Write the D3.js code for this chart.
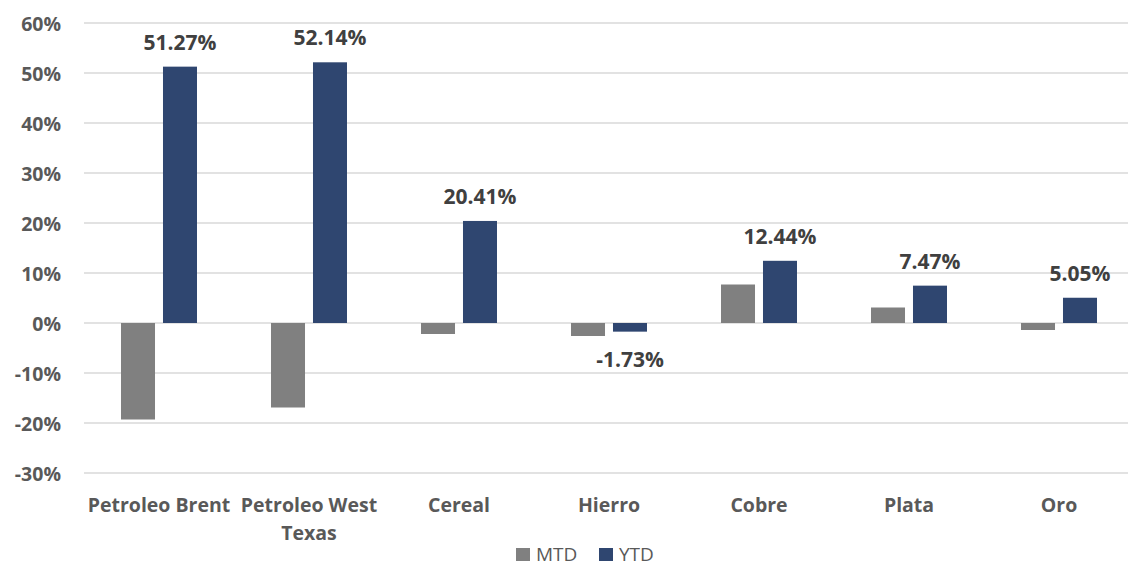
<!DOCTYPE html>
<html>
<head>
<meta charset="utf-8">
<script src="https://cdn.jsdelivr.net/npm/d3@7"></script>
<style>
  body { margin: 0; background: #fff; }
  svg { display: block; }
</style>
</head>
<body>
<svg id="chart" width="1128" height="566"></svg>
<script>
// Commodity returns: month-to-date and year-to-date, in percent
const categories = ["Petroleo Brent", "Petroleo West Texas", "Cereal", "Hierro", "Cobre", "Plata", "Oro"];
const categoryLines = [["Petroleo Brent"], ["Petroleo West", "Texas"], ["Cereal"], ["Hierro"], ["Cobre"], ["Plata"], ["Oro"]];
const seriesNames = ["MTD", "YTD"];
const mtd = [-19.3, -16.9, -2.2, -2.6, 7.7, 3.1, -1.4];
const ytd = [51.27, 52.14, 20.41, -1.73, 12.44, 7.47, 5.05];
const yTicks = [-30, -20, -10, 0, 10, 20, 30, 40, 50, 60];
const colors = { MTD: "#808080", YTD: "#2F4670" };

const svg = d3.select("#chart");
const font = "'Open Sans', sans-serif";

const x0 = d3.scaleBand().domain(categories).range([84, 1134]).paddingInner(0).paddingOuter(0);
const x1 = d3.scaleBand().domain(seriesNames).range([37, 113]).paddingInner(0.19).paddingOuter(0);
const y = d3.scaleLinear().domain([-30, 60]).range([473, 23]);

// horizontal gridlines
svg.append("g").selectAll("line").data(yTicks).join("line")
  .attr("x1", 84).attr("x2", 1134)
  .attr("y1", d => y(d)).attr("y2", d => y(d))
  .attr("stroke", "#d9d9d9").attr("stroke-width", 1.5);

// y axis labels
const yAxis = d3.axisLeft(y).tickValues(yTicks).tickFormat(d => d + "%").tickSize(0).tickPadding(0);
const gy = svg.append("g").attr("transform", "translate(61,0)").call(yAxis);
gy.select(".domain").remove();
gy.selectAll("text")
  .attr("dy", "0.36em")
  .attr("font-family", font).attr("font-weight", "bold").attr("font-size", 19.5)
  .attr("fill", "#595959");

// bars
const rows = categories.map((c, i) => ({ cat: c, MTD: mtd[i], YTD: ytd[i] }));
const groups = svg.append("g").selectAll("g").data(rows).join("g")
  .attr("transform", d => `translate(${x0(d.cat)},0)`);

groups.selectAll("rect").data(d => seriesNames.map(s => ({ s, v: d[s] }))).join("rect")
  .attr("x", d => x1(d.s))
  .attr("width", x1.bandwidth())
  .attr("y", d => y(Math.max(0, d.v)))
  .attr("height", d => Math.abs(y(d.v) - y(0)))
  .attr("fill", d => colors[d.s]);

// YTD value labels
groups.append("text")
  .attr("x", x1("YTD") + x1.bandwidth() / 2)
  .attr("y", d => d.YTD >= 0 ? y(d.YTD) - 17 : y(d.YTD) + 35)
  .attr("text-anchor", "middle")
  .attr("font-family", font).attr("font-weight", "bold").attr("font-size", 21)
  .attr("fill", "#404040")
  .text(d => d.YTD.toFixed(2) + "%");

// category labels
const catG = svg.append("g");
categories.forEach((c, i) => {
  const cx = x0(c) + x0.bandwidth() / 2;
  const t = catG.append("text")
    .attr("x", cx)
    .attr("y", 511.5)
    .attr("text-anchor", "middle")
    .attr("font-family", font).attr("font-weight", "bold").attr("font-size", 19.5)
    .attr("fill", "#595959");
  categoryLines[i].forEach((line, j) => {
    t.append("tspan").attr("x", cx).attr("dy", j === 0 ? 0 : 28.5).text(line);
  });
});

// legend
const legend = svg.append("g");
const legendItems = [{ s: "MTD", x: 516 }, { s: "YTD", x: 599 }];
legendItems.forEach(it => {
  legend.append("rect").attr("x", it.x).attr("y", 548).attr("width", 14).attr("height", 13).attr("fill", colors[it.s]);
  legend.append("text").attr("x", it.x + 20).attr("y", 560.5)
    .attr("font-family", font).attr("font-size", 19).attr("fill", "#595959").text(it.s);
});
</script>
</body>
</html>
